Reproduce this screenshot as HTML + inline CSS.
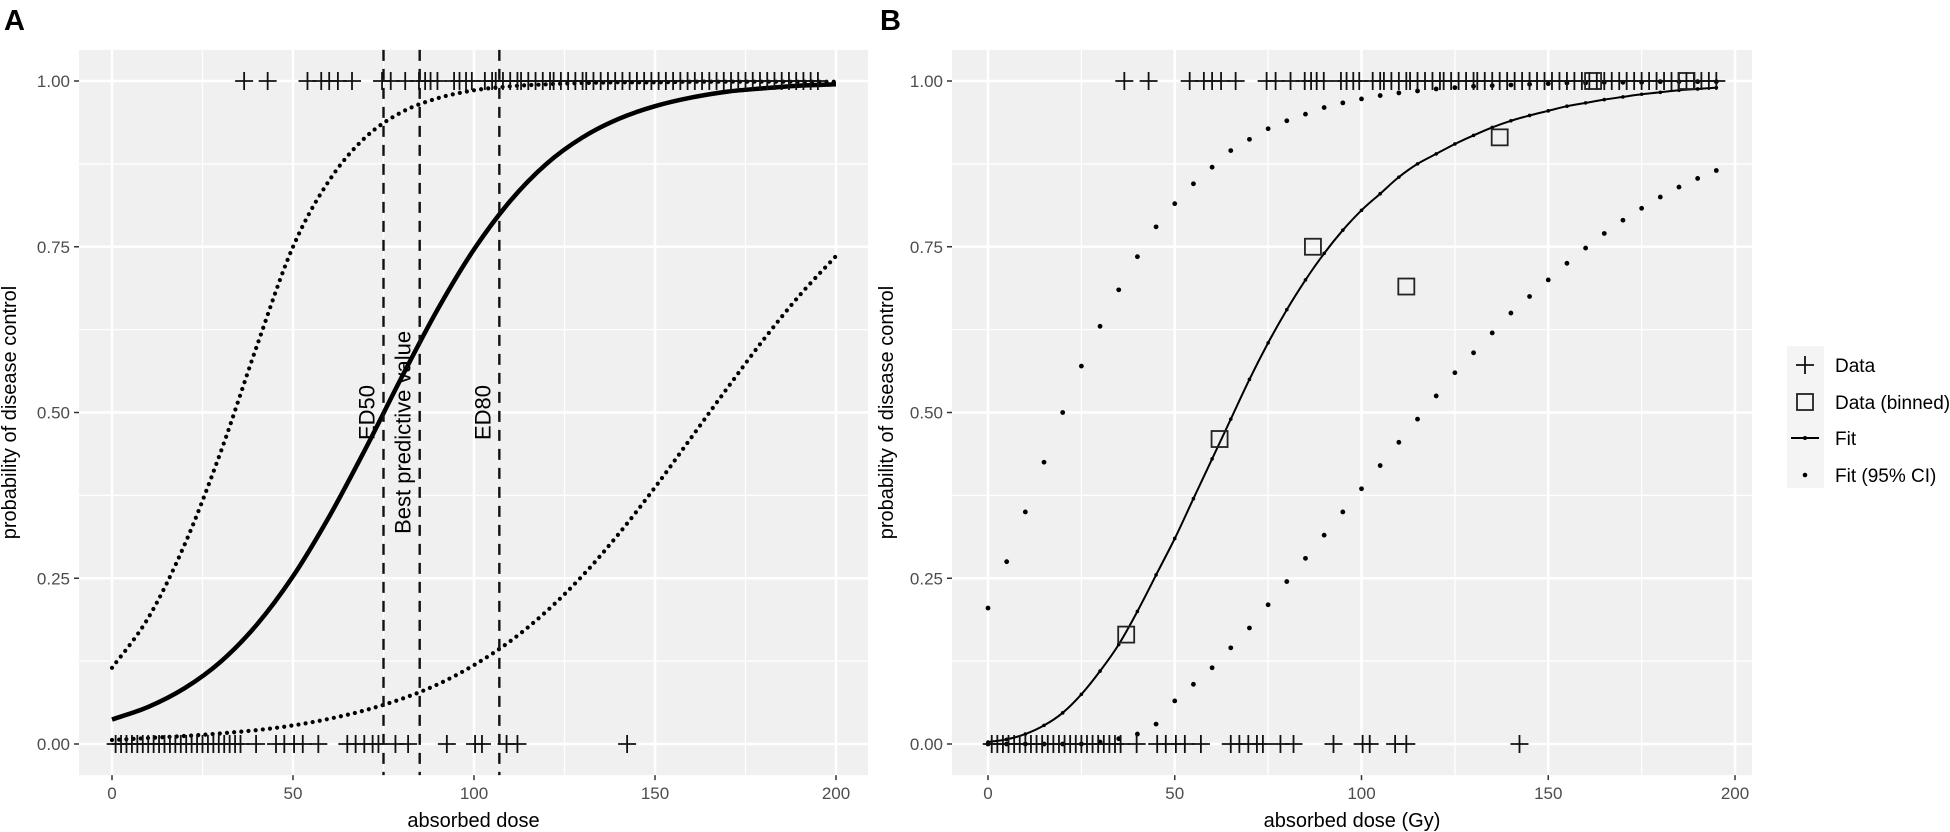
<!DOCTYPE html>
<html><head><meta charset="utf-8">
<style>
html,body{margin:0;padding:0;background:#fff;}
svg{display:block;font-family:"Liberation Sans",Arial,sans-serif;}
</style></head>
<body>
<svg id="fig" width="1950" height="832" viewBox="0 0 1950 832" xmlns="http://www.w3.org/2000/svg"></svg>
<script>
// ===== Panel A data =====
const doseGridA = [0,10,20,30,40,50,60,70,80,90,100,110,120,130,140,150,160,170,180,190,200];
const fitA   = [0.037,0.056,0.084,0.124,0.180,0.253,0.343,0.445,0.553,0.656,0.746,0.819,0.875,0.915,0.943,0.962,0.975,0.984,0.989,0.993,0.995];
const upperA = [0.115,0.19,0.30,0.44,0.60,0.75,0.85,0.915,0.953,0.974,0.986,0.992,0.995,0.997,0.998,0.998,0.999,0.999,0.999,0.999,0.999];
const lowerA = [0.006,0.009,0.012,0.016,0.021,0.028,0.038,0.051,0.068,0.090,0.119,0.155,0.200,0.254,0.317,0.387,0.462,0.537,0.610,0.677,0.736];
const refLines = [75,85,107];
const refLabels = ["ED50","Best predictive value","ED80"];
// ===== shared raw data =====
const dosesResp = [36.5,43,54,57.8,60,62.4,66.3,74.6,77,81,84.8,86.5,88,89.9,94.5,96,97.8,99.4,103,105,106,108,110,112,113,115,117,119,121,122,124,126,128,130,131,133,135,137,139,141,143,145,147,149,151,153,155,157,159,161,163,165,167,169,171,173,175,177,179,181,183,185,187,189,191,193,195];
const dosesNoResp = [1,2.5,4,5.5,7,8.5,10,11.5,13,14.5,16,17.5,19,20.5,22,23.5,25,26.5,28,29.5,31,32.5,34,35.5,39.8,45.3,47.6,50.3,52.7,57,65,67.3,69.7,72,73.6,78.3,81.8,92.5,100.3,102.2,109,112,142.3];
// ===== Panel B data =====
const doseGridB = [0,5,10,15,20,25,30,35,40,45,50,55,60,65,70,75,80,85,90,95,100,105,110,115,120,125,130,135,140,145,150,155,160,165,170,175,180,185,190,195];
const fitB   = [0.003,0.007,0.015,0.028,0.047,0.075,0.11,0.15,0.2,0.255,0.31,0.37,0.43,0.49,0.55,0.605,0.655,0.70,0.74,0.775,0.805,0.83,0.855,0.875,0.89,0.905,0.918,0.93,0.94,0.948,0.955,0.962,0.967,0.972,0.976,0.98,0.983,0.986,0.988,0.99];
const upperB = [0.205,0.275,0.35,0.425,0.50,0.57,0.63,0.685,0.735,0.78,0.815,0.845,0.87,0.895,0.912,0.928,0.94,0.95,0.96,0.967,0.973,0.978,0.982,0.985,0.988,0.99,0.992,0.993,0.994,0.995,0.996,0.997,0.997,0.998,0.998,0.998,0.999,0.999,0.999,0.999];
const lowerB = [0,0,0,0,0,0,0.003,0.008,0.015,0.03,0.065,0.09,0.115,0.145,0.175,0.21,0.245,0.28,0.315,0.35,0.385,0.42,0.455,0.49,0.525,0.56,0.59,0.62,0.65,0.675,0.70,0.725,0.748,0.77,0.79,0.808,0.825,0.84,0.853,0.865];
const binDose = [37,62,87,112,137,162,187];
const binProb = [0.165,0.46,0.75,0.69,0.915,1.0,1.0];
const xTicks = [0,50,100,150,200];
const yTicks = [0,0.25,0.5,0.75,1.0];
const yTickLabels = ["0.00","0.25","0.50","0.75","1.00"];

const NS="http://www.w3.org/2000/svg";
const svg=document.getElementById('fig');
function el(tag,attrs,parent){const e=document.createElementNS(NS,tag);for(const k in attrs)e.setAttribute(k,attrs[k]);(parent||svg).appendChild(e);return e;}

const Y0=744, Y1=81;
function ys(p){return Y0+(Y1-Y0)*p;}
const panels={
  A:{left:79,right:868,x0:112,x200:836},
  B:{left:952,right:1752,x0:988,x200:1735}
};
function xsF(P){return d=>P.x0+(P.x200-P.x0)*d/200;}

function drawPanel(key,letterX,xTitle,yTitleX){
  const P=panels[key], xs=xsF(P);
  const g=el('g',{});
  
  
  const top=ys(1.05)+2, bot=ys(-0.05)-2;
  const bg=el('rect',{x:P.left,y:top,width:P.right-P.left,height:bot-top,fill:'#f0f0f0'},g);
  
  
  for(let v=-25;v<=225;v+=25){ if(v%50===0) continue; const x=xs(v); if(x<P.left||x>P.right) continue;
    el('line',{x1:x,x2:x,y1:top,y2:bot,stroke:'#fff','stroke-width':1.3},g);}
  for(let p=0.125;p<1;p+=0.25){el('line',{x1:P.left,x2:P.right,y1:ys(p),y2:ys(p),stroke:'#fff','stroke-width':1.3},g);}
  xTicks.forEach(v=>{const x=xs(v);
    el('line',{x1:x,x2:x,y1:top,y2:bot,stroke:'#fff','stroke-width':2.6},g);
    el('line',{x1:x,x2:x,y1:bot,y2:bot+5,stroke:'#333','stroke-width':1.5},g);
    const t=el('text',{x:x,y:bot+24,'text-anchor':'middle','font-size':17,fill:'#4d4d4d'},g);t.textContent=v;
    
    
  });
  yTicks.forEach((p,i)=>{const y=ys(p);
    el('line',{x1:P.left,x2:P.right,y1:y,y2:y,stroke:'#fff','stroke-width':2.6},g);
    el('line',{x1:P.left-5,x2:P.left,y1:y,y2:y,stroke:'#333','stroke-width':1.5},g);
    const t=el('text',{x:P.left-9,y:y+6,'text-anchor':'end','font-size':17,fill:'#4d4d4d'},g);t.textContent=yTickLabels[i];
    
    
  });
  const xt=el('text',{x:(P.left+P.right)/2,y:827,'text-anchor':'middle','font-size':20,fill:'#000'},g);xt.textContent=xTitle;
  
  
  const yt=el('text',{x:0,y:0,'text-anchor':'middle','font-size':20,fill:'#000',transform:`translate(${yTitleX},${(top+bot)/2}) rotate(-90)`},g);yt.textContent='probability of disease control';
  
  
  const lt=el('text',{x:letterX,y:30,'font-size':29,'font-weight':'bold',fill:'#000'},g);lt.textContent=key;
  
  
  return {g,xs};
}
// smooth Catmull-Rom path through data points
function pathFrom(xsArr,ysArr,xs){
  const pts=xsArr.map((d,i)=>[xs(d),ys(ysArr[i])]);
  let s='M'+pts[0][0].toFixed(1)+','+pts[0][1].toFixed(1);
  for(let i=0;i<pts.length-1;i++){
    const p0=pts[Math.max(0,i-1)],p1=pts[i],p2=pts[i+1],p3=pts[Math.min(pts.length-1,i+2)];
    const c1=[p1[0]+(p2[0]-p0[0])/6,p1[1]+(p2[1]-p0[1])/6];
    const c2=[p2[0]-(p3[0]-p1[0])/6,p2[1]-(p3[1]-p1[1])/6];
    s+=` C${c1[0].toFixed(1)},${c1[1].toFixed(1)} ${c2[0].toFixed(1)},${c2[1].toFixed(1)} ${p2[0].toFixed(1)},${p2[1].toFixed(1)}`;
  }
  return s;
}
function crosses(g,xs,doses,p,size,name){
  doses.forEach(d=>{const x=xs(d),y=ys(p);
    const c=el('path',{d:`M${x-size},${y}H${x+size}M${x},${y-size}V${y+size}`,stroke:'#111','stroke-width':1.8,fill:'none'},g);
    
    
  });
}

// ===== Panel A =====
(function(){
  const {g,xs}=drawPanel('A',4,'absorbed dose',16);
  const u=el('path',{d:pathFrom(doseGridA,upperA,xs),fill:'none',stroke:'#000','stroke-width':4.2,'stroke-linecap':'round','stroke-dasharray':'0 7.2'},g);
  
  
  const l=el('path',{d:pathFrom(doseGridA,lowerA,xs),fill:'none',stroke:'#000','stroke-width':4.2,'stroke-linecap':'round','stroke-dasharray':'0 7.2'},g);
  
  
  const f=el('path',{d:pathFrom(doseGridA,fitA,xs),fill:'none',stroke:'#000','stroke-width':4.5},g);
  
  
  crosses(g,xs,dosesResp,1,9,'data-point-response');
  crosses(g,xs,dosesNoResp,0,9,'data-point-no-response');
  refLines.forEach((d,i)=>{const x=xs(d);
    const ln=el('line',{x1:x,x2:x,y1:ys(1.05)+2,y2:ys(-0.05)-2,stroke:'#111','stroke-width':2.4,'stroke-dasharray':'11 8'},g);
    
    
    const t=el('text',{x:0,y:0,'text-anchor':'middle','font-size':22,fill:'#000',transform:`translate(${x-9},${ys(i===1?0.47:0.5)}) rotate(-90)`},g);
    t.textContent=refLabels[i];
    
    
  });
})();

// ===== Panel B =====
(function(){
  const {g,xs}=drawPanel('B',880,'absorbed dose (Gy)',893);
  doseGridB.forEach((d,i)=>{
    const a=el('circle',{cx:xs(d),cy:ys(upperB[i]),r:2.4,fill:'#000'},g);
    
    
    const b=el('circle',{cx:xs(d),cy:ys(lowerB[i]),r:2.4,fill:'#000'},g);
    
    
  });
  const f=el('path',{d:pathFrom(doseGridB,fitB,xs),fill:'none',stroke:'#000','stroke-width':2},g);
  
  
  doseGridB.forEach((d,i)=>{const c=el('circle',{cx:xs(d),cy:ys(fitB[i]),r:1.8,fill:'#000'},g);
    
    });
  crosses(g,xs,dosesResp.filter(d=>d<=196),1,9,'data-point-response');
  crosses(g,xs,dosesNoResp,0,9,'data-point-no-response');
  binDose.forEach((d,i)=>{
    const s=el('rect',{x:xs(d)-8,y:ys(binProb[i])-8,width:16,height:16,fill:'none',stroke:'#222','stroke-width':1.8},g);
    
    
  });
  const lg=el('g',{});
  
  
  el('rect',{x:1787,y:346,width:37,height:142,fill:'#f4f4f4'},lg);
  const rows=[365,402,438,475], names=['Data','Data (binned)','Fit','Fit (95% CI)'];
  const kx=1805;
  el('path',{d:`M${kx-9},${rows[0]}H${kx+9}M${kx},${rows[0]-9}V${rows[0]+9}`,stroke:'#111','stroke-width':1.8},lg);
  el('rect',{x:kx-8,y:rows[1]-8,width:16,height:16,fill:'none',stroke:'#222','stroke-width':1.8},lg);
  el('line',{x1:kx-14,x2:kx+14,y1:rows[2],y2:rows[2],stroke:'#000','stroke-width':2},lg);
  el('circle',{cx:kx,cy:rows[2],r:2,fill:'#000'},lg);
  el('circle',{cx:kx,cy:rows[3],r:2.3,fill:'#000'},lg);
  names.forEach((n,i)=>{const t=el('text',{x:1835,y:rows[i]+7,'font-size':19,fill:'#000'},lg);t.textContent=n;
    
    });
})();
</script>
</body></html>
